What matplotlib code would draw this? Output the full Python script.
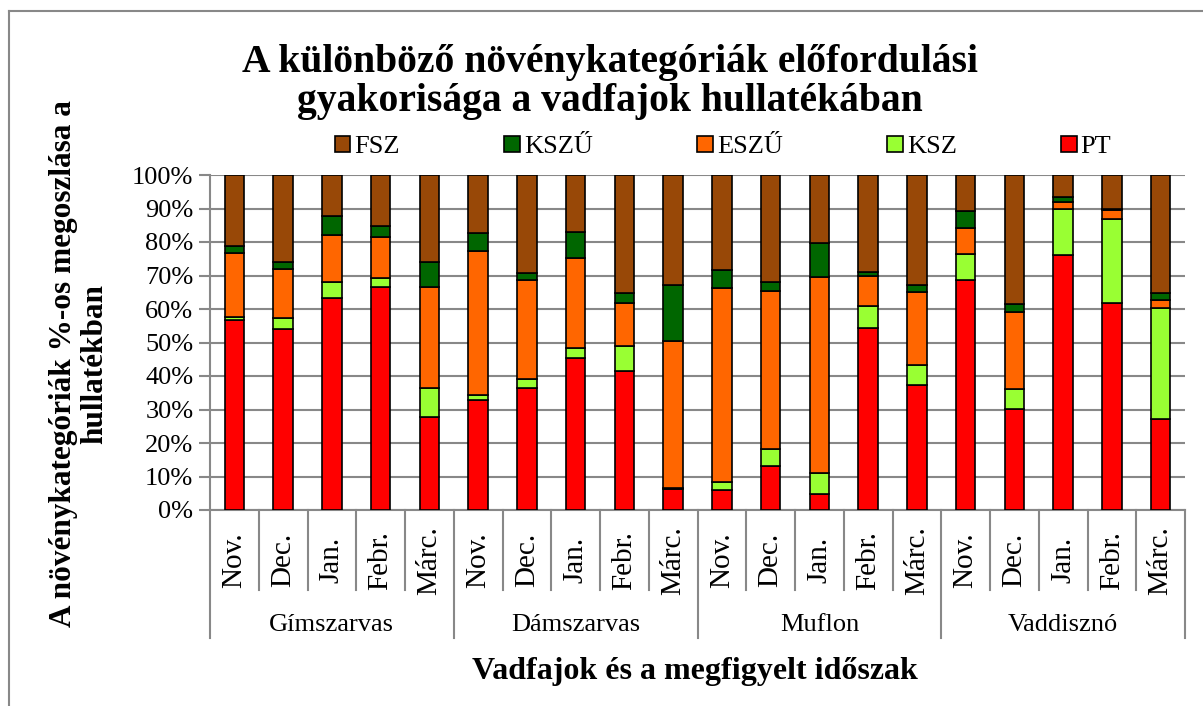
import matplotlib.pyplot as plt
import matplotlib.transforms as mtransforms
from matplotlib.lines import Line2D
import numpy as np

plt.rcParams['font.family'] = ['Liberation Serif', 'DejaVu Serif']

species = ["Gímszarvas", "Dámszarvas", "Muflon", "Vaddisznó"]
months = ["Nov.", "Dec.", "Jan.", "Febr.", "Márc."]

# percentage share of each plant category, per species and month
pt = [56.6, 54.1, 63.4, 66.7, 27.9,
      32.9, 36.3, 45.4, 41.6, 6.3,
      5.9, 13.0, 4.9, 54.4, 37.3,
      68.6, 30.2, 76.2, 61.9, 27.1]
ksz = [0.9, 3.3, 4.8, 2.7, 8.5,
       1.5, 2.7, 3.1, 7.5, 0.4,
       2.6, 5.2, 6.0, 6.6, 5.9,
       7.9, 5.9, 13.7, 25.1, 33.2]
eszu = [19.1, 14.4, 13.8, 12.1, 30.2,
        42.8, 29.6, 26.6, 12.8, 43.7,
        57.8, 47.1, 58.6, 8.8, 21.9,
        7.8, 23.1, 2.0, 2.7, 2.3]
kszu = [2.2, 2.2, 5.9, 3.3, 7.4,
        5.5, 2.0, 8.0, 2.9, 16.7,
        5.2, 2.8, 10.1, 1.3, 2.2,
        5.1, 2.4, 1.6, 0.3, 2.1]
fsz = [100 - a - b - c - d for a, b, c, d in zip(pt, ksz, eszu, kszu)]

series = [("PT", pt, "#FF0000"), ("KSZ", ksz, "#99FF33"), ("ESZŰ", eszu, "#FF6600"),
          ("KSZŰ", kszu, "#006600"), ("FSZ", fsz, "#984807")]

fig = plt.figure(figsize=(12.03, 7.06), dpi=100)
ax = fig.add_axes([210 / 1203, 1 - 510 / 706, 975 / 1203, 335 / 706])

n = len(pt)
x = np.arange(n)
bottom = np.zeros(n)
bars = {}
for name, vals, col in series:
    vals = np.array(vals)
    bars[name] = ax.bar(x, vals, 0.4, bottom=bottom, color=col, edgecolor='black', linewidth=1.2, zorder=3)
    bottom += vals

ax.set_xlim(-0.5, n - 0.5)
ax.set_ylim(0, 100)
ax.set_yticks(np.arange(0, 101, 10))
ax.set_yticklabels([f"{v}%" for v in range(0, 101, 10)], fontsize=19)
ax.yaxis.grid(True, color='#888888', linewidth=1.5, zorder=0)
ax.set_xticks([])
for s in ['top', 'right']:
    ax.spines[s].set_visible(False)
for s in ['left', 'bottom']:
    ax.spines[s].set_color('#888888')
    ax.spines[s].set_linewidth(1.5)
ax.tick_params(axis='y', length=8, color='#888888', width=1.5, pad=4)

# hierarchical category axis
trans = mtransforms.blended_transform_factory(ax.transData, ax.transAxes)
for i in range(n + 1):
    low = -0.382 if i % 5 == 0 else -0.239
    ax.plot([i - 0.5, i - 0.5], [0, low], transform=trans, color='#888888', lw=1.5, clip_on=False)
for i in range(n):
    ax.text(i, -0.15, months[i % 5], transform=trans, rotation=90, ha='center', va='center', fontsize=21)
for g, sp in enumerate(species):
    ax.text(g * 5 + 2, -0.343, sp, transform=trans, ha='center', va='center', fontsize=19)

fig.text(0.507, 1 - 82 / 706, "A különböző növénykategóriák előfordulási\ngyakorisága a vadfajok hullatékában",
         ha='center', va='center', fontsize=28.5, fontweight='bold', linespacing=1.1)
fig.text(695 / 1203, 1 - 672 / 706, "Vadfajok és a megfigyelt időszak",
         ha='center', va='center', fontsize=23, fontweight='bold')
fig.text(79 / 1203, 1 - 364 / 706, "A növénykategóriák %-os megoszlása a\nhullatékban",
         ha='center', va='center', rotation=90, fontsize=22.5, fontweight='bold', multialignment='center',
         linespacing=1.1)

order = ["FSZ", "KSZŰ", "ESZŰ", "KSZ", "PT"]
fig.legend([bars[k] for k in order], order, loc='center', bbox_to_anchor=(0.601, 1 - 147 / 706),
           ncol=5, frameon=False, fontsize=19, handlelength=0.6, handleheight=0.6,
           handletextpad=0.15, columnspacing=3.95)

# chart-area border (top and left edges visible)
fig.add_artist(Line2D([9 / 1203, 9 / 1203], [0, 1 - 11 / 706], transform=fig.transFigure,
                      color='#888888', lw=1.5))
fig.add_artist(Line2D([9 / 1203, 1], [1 - 11 / 706, 1 - 11 / 706], transform=fig.transFigure,
                      color='#888888', lw=1.5))

fig.savefig("out.png", dpi=100)
